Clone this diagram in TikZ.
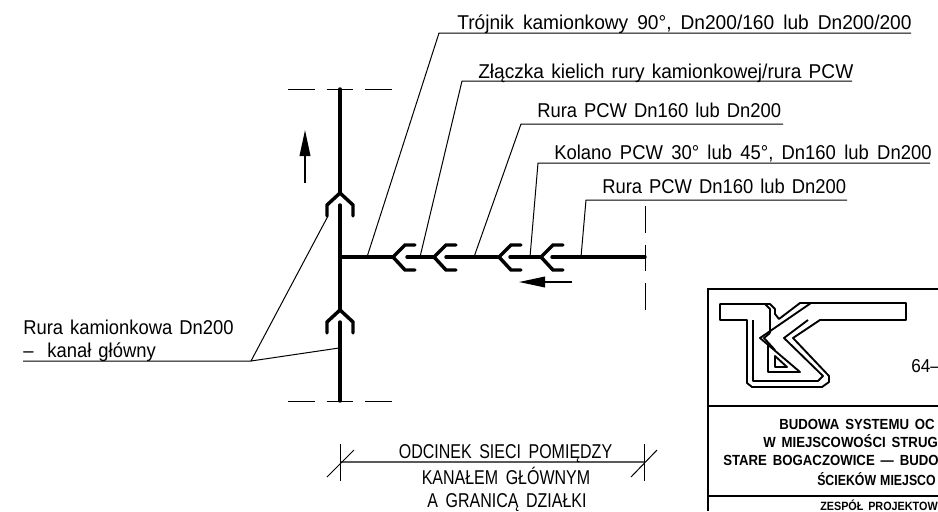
\documentclass[tikz,border=0pt]{standalone}
\usepackage{fontspec}
\setmainfont[FakeStretch=0.92,WordSpace=1.37]{Liberation Sans}
\newfontfamily\widefont[FakeStretch=0.955,WordSpace=1.37]{Liberation Sans}
\newfontfamily\teefont[FakeStretch=0.957,WordSpace=1.7]{Liberation Sans}
\newfontfamily\bendfont[FakeStretch=0.922,WordSpace=1.62]{Liberation Sans}
\newfontfamily\capsfont[FakeStretch=0.8,WordSpace=1.7]{Liberation Sans}
\newfontfamily\titlefont[FakeStretch=0.9,WordSpace=1.6]{Liberation Sans Bold}
\newfontfamily\lastfont[FakeStretch=0.84,WordSpace=1.2]{Liberation Sans Bold}
\usetikzlibrary{arrows.meta, positioning}

\begin{document}
\begin{tikzpicture}[
    x=0.75pt, y=-0.75pt,
    pipe/.style={line width=2.6pt, line cap=round, line join=miter},
    leader/.style={line width=0.75pt},
    axis/.style={line width=0.7pt, dash pattern=on 20pt off 9pt},
    frame/.style={line width=1.5pt},
    logo/.style={line width=1.4pt, line join=round},
    lbl/.style={anchor=base west, inner sep=0pt, font=\fontsize{15}{17}\selectfont},
    widelbl/.style={lbl, font=\widefont\fontsize{15}{17}\selectfont},
    dimtxt/.style={anchor=base, inner sep=0pt, font=\capsfont\fontsize{15}{17}\selectfont},
    blocktxt/.style={anchor=base west, inner sep=0pt, font=\titlefont\fontsize{11}{13}\selectfont},
    flow/.style={-{Triangle[length=19.5pt,width=8pt]}, line width=1.1pt}
]
    \useasboundingbox (0,0) rectangle (938,511);
    \clip (0,0) rectangle (938,511);

    % main sewer
    \coordinate (top) at (340,89);
    \coordinate (apexa) at (340,193);
    \coordinate (taila) at (340,205);
    \coordinate (apexb) at (340,310);
    \coordinate (tailb) at (340,322);
    \coordinate (bot) at (340,401);
    \draw[pipe] (top) -- (apexa);
    \draw[pipe] (taila) -- (apexb);
    \draw[pipe] (tailb) -- (bot);
    \foreach \y in {193,310}
        \draw[pipe] (327,\y+23) -- (327,\y+12) -- (340,\y) -- (353,\y+12) -- (353,\y+23);

    % branch with fittings
    \coordinate (tee) at (340,257);
    \coordinate (end) at (645,257);
    \draw[pipe] (tee) -- (393,257);
    \draw[pipe] (407,257) -- (434,257);
    \draw[pipe] (446,257) -- (499,257);
    \draw[pipe] (510,257) -- (541,257);
    \draw[pipe] (552,257) -- (end);
    \foreach \x in {393,434,499,541}
        \draw[pipe] (\x+22,245) -- (\x+12,245) -- (\x,257) -- (\x+12,270) -- (\x+22,270);

    % centre lines
    \draw[axis] (288,89) -- (393,89);
    \draw[axis] (288,401.5) -- (393,401.5);
    \draw[axis] (645,206) -- (645,310);

    % flow arrows
    \coordinate (upa) at (305,183);
    \coordinate (upb) at (305,130);
    \coordinate (lefta) at (572,282);
    \coordinate (leftb) at (519,282);
    \draw[flow] (upa) -- (upb);
    \draw[flow] (lefta) -- (leftb);

    % labels
    \node[lbl, font=\teefont\fontsize{15}{17}\selectfont] (tee lbl) at (457,29) {Trójnik kamionkowy 90°, Dn200/160 lub Dn200/200};
    \node[widelbl] (joint lbl) at (478,78) {Złączka kielich rury kamionkowej/rura PCW};
    \node[lbl] (pipe lbl) at (537,117) {Rura PCW Dn160 lub Dn200};
    \node[lbl, font=\bendfont\fontsize{15}{17}\selectfont] (bend lbl) at (554,159) {Kolano PCW 30° lub 45°, Dn160 lub Dn200};
    \node[lbl] (end lbl) at (602,193) {Rura PCW Dn160 lub Dn200};
    \node[lbl] (main lbl) at (23,334) {Rura kamionkowa Dn200};
    \node[lbl] (canal lbl) at (23,357) {--\ \ kanał główny};

    \draw[leader] (911,33) -- (439,33) -- (367,257);
    \draw[leader] (852,81) -- (462,81) -- (420,257);
    \draw[leader] (783,124) -- (521,124) -- (474,257);
    \draw[leader] (930,163) -- (538,163) -- (530,257);
    \draw[leader] (847,200) -- (586,200) -- (581,257);
    \coordinate (knee) at (251,361);
    \draw[leader] (23,361) -- (knee) -- (328,216);
    \draw[leader] (knee) -- (339,348);

    % section dimension
    \coordinate (dima) at (340,462);
    \coordinate (dimb) at (644,462);
    \draw[line width=1.1pt, draw=black!65] (dima) -- (dimb);
    \draw[leader] (340,444) -- (340,481);
    \draw[leader] (327,477) -- (354,450);
    \draw[leader] (644,444) -- (644,481);
    \draw[leader] (631,477) -- (657,450);
    \node[dimtxt] (dim one) at (505.5,458) {ODCINEK SIECI POMIĘDZY};
    \node[dimtxt] (dim two) at (506,484) {KANAŁEM GŁÓWNYM};
    \node[dimtxt] (dim three) at (507,507) {A GRANICĄ DZIAŁKI};

    % title block
    \draw[frame] (938,289) -- (708,289) -- (708,511);
    \draw[frame] (708,406) -- (938,406);
    \draw[frame] (708,496) -- (938,496);

    \draw[logo] (720,304) -- (770,304) -- (775,309) -- (775,314) -- (779,319) -- (800,303) -- (906,303) -- (906,320) -- (820,320) -- (793,338) -- (829,376) -- (829,382) -- (822,387) -- (752,387) -- (747,383) -- (747,320) -- (720,320) -- cycle;
    \draw[logo] (753,320) -- (753,381) -- (818,381) -- (823,376) -- (784,338) -- (808,320);
    \draw[logo] (811,303) -- (760,338) -- (800,372) -- (768,372) -- (768,345);
    \draw[logo] (765,304) -- (770,309) -- (770,333);
    \draw[logo] (775,350) -- (764,338) -- (770,333);
    \draw[logo] (775,356) -- (775,367) -- (787,367) -- cycle;

    \node[anchor=base west, inner sep=0pt, font=\fontsize{14}{16}\selectfont] (zip) at (911,372) {64--};
    \node[blocktxt] (title one) at (779,429) {BUDOWA SYSTEMU OC};
    \node[blocktxt] (title two) at (763,447) {W MIEJSCOWOŚCI STRUG};
    \node[blocktxt] (title three) at (723,465) {STARE BOGACZOWICE — BUDO};
    \node[blocktxt, font=\lastfont\fontsize{11}{13}\selectfont] (title four) at (817,485) {ŚCIEKÓW MIEJSCO};
    \node[anchor=base west, inner sep=0pt, font=\titlefont\fontsize{9}{10}\selectfont] (team) at (820,510) {ZESPÓŁ PROJEKTOW};
\end{tikzpicture}
\end{document}
